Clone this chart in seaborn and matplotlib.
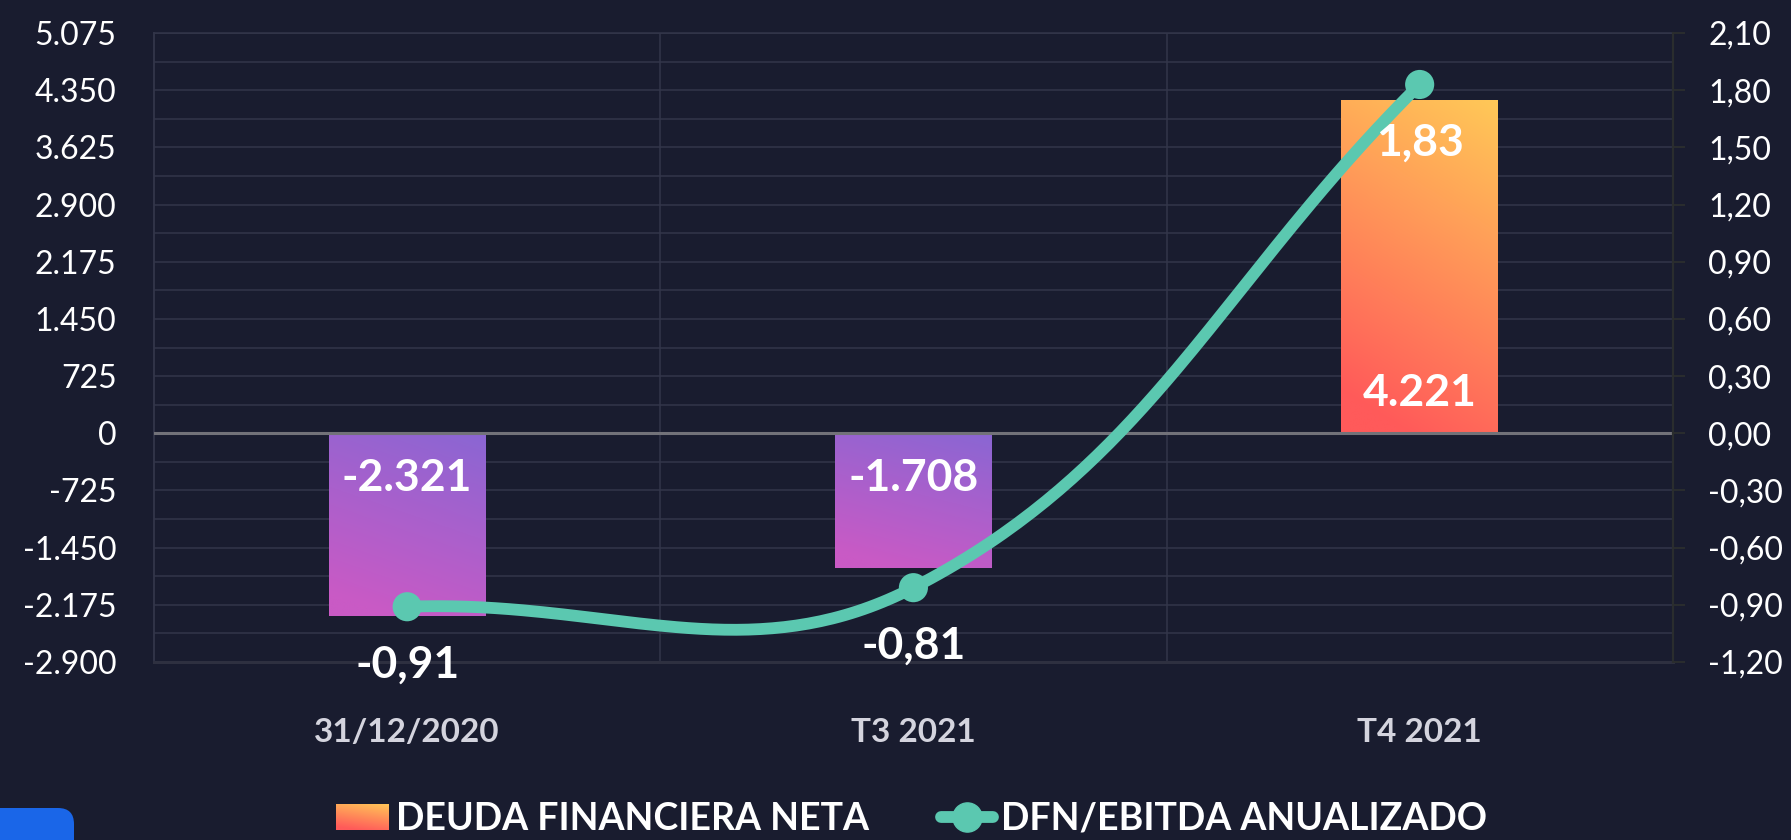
import numpy as np
import matplotlib
matplotlib.use("Agg")
import matplotlib.pyplot as plt
import seaborn as sns
from matplotlib.patches import Patch, FancyBboxPatch
from matplotlib.lines import Line2D
from matplotlib.colors import LinearSegmentedColormap
from matplotlib.ticker import MultipleLocator, FixedLocator, FuncFormatter

# datos
categorias = ["31/12/2020", "T3 2021", "T4 2021"]
deuda_neta = [-2321, -1708, 4221]
dfn_ebitda = [-0.91, -0.81, 1.83]
serie_barras = "DEUDA FINANCIERA NETA"
serie_linea = "DFN/EBITDA ANUALIZADO"

BG = "#191c2f"
GRID = "#33364a"
TEAL = "#5bc8b0"
GRAD_NEG = ["#c95ac5", "#8a66d3"]   # abajo -> arriba
GRAD_POS = ["#ff5a5a", "#ffc857"]


def miles(v, pos=None):
    return f"{v:,.0f}".replace(",", ".")


def decimal(v, pos=None):
    return f"{v:.2f}".replace(".", ",")


def curva_suave(xs, ys, sx, sy, tension=0.4, n=80):
    # spline tipo chart.js, calculada en espacio de pixeles
    pts = np.column_stack([np.asarray(xs, float) * sx, np.asarray(ys, float) * sy])
    m = len(pts)
    cp_prev, cp_next = pts.copy(), pts.copy()
    for i in range(m):
        a = pts[max(i - 1, 0)]
        b = pts[i]
        c = pts[min(i + 1, m - 1)]
        d01 = np.hypot(*(b - a))
        d12 = np.hypot(*(c - b))
        tot = d01 + d12
        fa = tension * d01 / tot
        fb = tension * d12 / tot
        cp_prev[i] = b - fa * (c - a)
        cp_next[i] = b + fb * (c - a)
    t = np.linspace(0, 1, n)[:, None]
    segs = []
    for i in range(m - 1):
        p0, p1, p2, p3 = pts[i], cp_next[i], cp_prev[i + 1], pts[i + 1]
        bz = (1 - t) ** 3 * p0 + 3 * (1 - t) ** 2 * t * p1 + 3 * (1 - t) * t ** 2 * p2 + t ** 3 * p3
        segs.append(bz if i == 0 else bz[1:])
    c = np.vstack(segs)
    return c[:, 0] / sx, c[:, 1] / sy


def gradiente(colores, n=64):
    v = np.linspace(0, 1, n)[:, None]
    h = np.linspace(0, 1, n)[None, :]
    return np.clip(0.85 * v + 0.25 * h - 0.1, 0, 1), LinearSegmentedColormap.from_list("g", colores)


sns.set_theme(style="dark")
plt.rcParams["font.family"] = ["Lato", "DejaVu Sans"]

fig = plt.figure(figsize=(17.91, 8.4), dpi=100, facecolor=BG)
ax = fig.add_axes([0.086, 0.2119, 0.848, 0.7488])
ax.set_facecolor(BG)

sns.barplot(x=categorias, y=deuda_neta, ax=ax, width=0.31, color="#ff8f55",
            saturation=1, errorbar=None, zorder=3)

ylim_izq = (-2900, 5075)
ylim_der = (-1.2, 2.1)

for patch, val in zip(ax.patches, deuda_neta):
    x0, w = patch.get_x(), patch.get_width()
    y0, h = patch.get_y(), patch.get_height()
    patch.set_facecolor("none")
    patch.set_edgecolor("none")
    z, cmap = gradiente(GRAD_POS if val > 0 else GRAD_NEG)
    im = ax.imshow(z, cmap=cmap, extent=(x0, x0 + w, min(y0, y0 + h), max(y0, y0 + h)),
                   origin="lower", aspect="auto", zorder=3, interpolation="bilinear")
    im.set_clip_path(patch)
    off = 29 if val > 0 else -32
    ax.annotate(miles(val), xy=(patch.get_x() + w / 2, 0), xytext=(0, off),
                textcoords="offset points", ha="center", va="center",
                fontsize=32, fontweight="bold", color="white", zorder=6)

ax.set_xlim(-0.5, 2.5)
ax.set_ylim(*ylim_izq)
ax.yaxis.set_major_locator(MultipleLocator(725))
ax.yaxis.set_minor_locator(MultipleLocator(362.5))
ax.yaxis.set_major_formatter(FuncFormatter(miles))
ax.grid(True, axis="y", which="both", color=GRID, lw=1.1, zorder=1)
ax.grid(False, axis="x")
for xv in (0.5, 1.5):
    ax.axvline(xv, color=GRID, lw=1.1, zorder=1)
ax.axhline(0, color="#727279", lw=2.2, zorder=4)
ax.set_axisbelow(True)

ax.tick_params(axis="y", which="both", length=0, pad=27, labelsize=23, labelcolor="white")
ax.tick_params(axis="x", length=0, pad=40, labelsize=24, labelcolor="#d4d4de")
for lbl in ax.get_xticklabels():
    lbl.set_fontweight("bold")
ax.set_xlabel("")
ax.set_ylabel("")
ax.spines["left"].set_color(GRID)
ax.spines["left"].set_linewidth(1.3)
ax.spines["top"].set_color(GRID)
ax.spines["top"].set_linewidth(1.1)
ax.spines["bottom"].set_color("#2e3040")
ax.spines["bottom"].set_linewidth(2.2)
ax.spines["right"].set_visible(False)

# eje derecho con la ratio
ax2 = ax.twinx()
ax2.set_ylim(*ylim_der)
ax2.yaxis.set_major_locator(FixedLocator(np.round(np.arange(-1.2, 2.11, 0.3), 2)))
ax2.yaxis.set_major_formatter(FuncFormatter(decimal))
ax2.tick_params(axis="y", length=8.6, width=1.4, color="#2a2d2e", pad=17,
                labelsize=23, labelcolor="white", direction="out")
ax2.grid(False)
for s in ("left", "top", "bottom"):
    ax2.spines[s].set_visible(False)
ax2.spines["right"].set_color("#2a2d2e")
ax2.spines["right"].set_linewidth(1.6)

bb = ax.get_window_extent()
sx = bb.width / (ax.get_xlim()[1] - ax.get_xlim()[0])
sy = bb.height / (ylim_der[1] - ylim_der[0])
xpos = np.arange(len(categorias))
cx, cy = curva_suave(xpos, dfn_ebitda, sx, sy)
ax2.plot(cx, cy, color=TEAL, lw=8.5, solid_capstyle="round", zorder=4)
sns.scatterplot(x=xpos, y=dfn_ebitda, ax=ax2, s=440, color=TEAL, edgecolor="none",
                zorder=5, legend=False)
for xp, val in zip(xpos, dfn_ebitda):
    ax2.annotate(decimal(val), xy=(xp, val), xytext=(0, -42), textcoords="offset points",
                 ha="center", va="center", fontsize=32, fontweight="bold",
                 color="white", zorder=7)
ax2.set_xlim(-0.5, 2.5)

# leyenda
handles = [Patch(facecolor="#ff8f55", edgecolor="none"),
           Line2D([0], [0], color=TEAL, lw=8.5, marker="o", ms=21)]
leg = fig.legend(handles, [serie_barras, serie_linea], loc="center",
                 bbox_to_anchor=(0.509, 0.025), ncol=2, frameon=False,
                 prop={"size": 27, "weight": "bold"}, labelcolor="white",
                 handlelength=1.4, handletextpad=0.2, columnspacing=1.9)

fig.canvas.draw()
hb = leg.get_patches()[0].get_window_extent()
W, H = fig.bbox.width, fig.bbox.height
lax = fig.add_axes([hb.x0 / W, hb.y0 / H, hb.width / W, hb.height / H])
z, cmap = gradiente(GRAD_POS)
lax.imshow(z, cmap=cmap, origin="lower", aspect="auto", interpolation="bilinear")
lax.axis("off")
leg.get_patches()[0].set_alpha(0)

# boton azul de la esquina
fig.patches.append(FancyBboxPatch((-1, -1), 1.74, 1.32, boxstyle="round,pad=0,rounding_size=0.16",
                                  transform=fig.dpi_scale_trans, facecolor="#1a66e8",
                                  edgecolor="none", figure=fig))

fig.savefig("out.png", dpi=100, facecolor=BG)
